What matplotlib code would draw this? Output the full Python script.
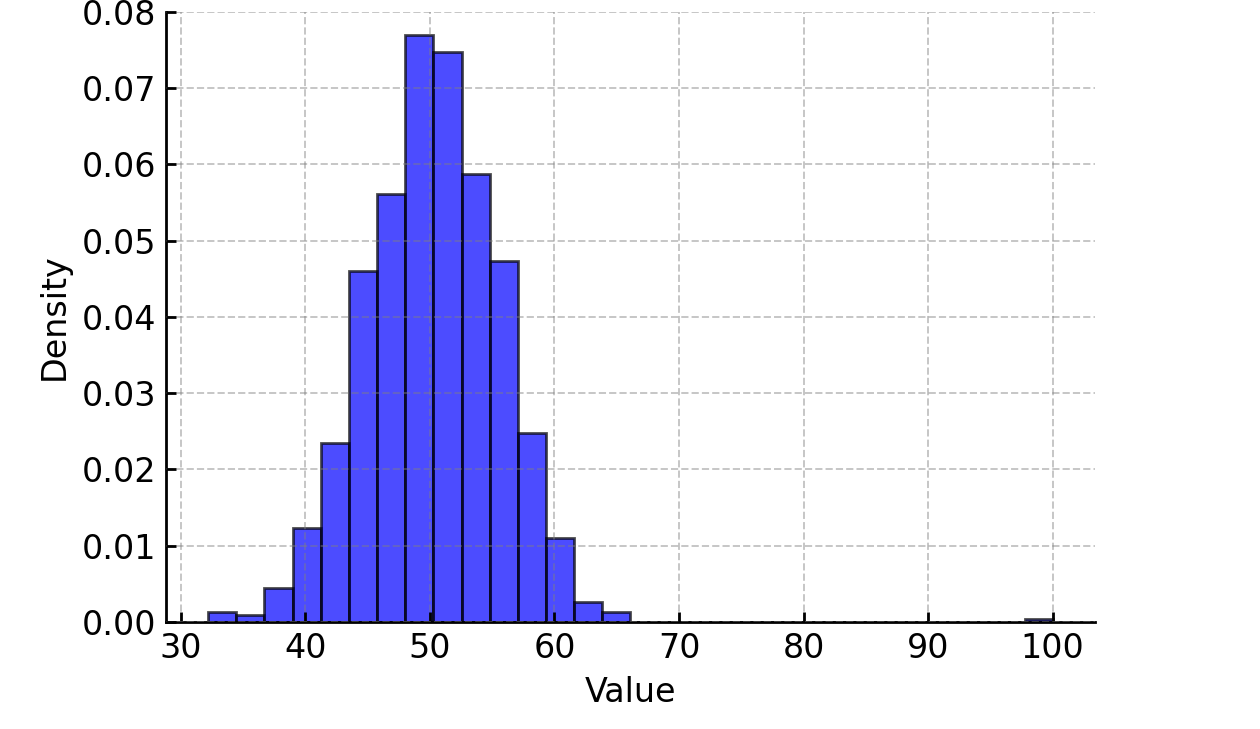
import matplotlib.pyplot as plt
import numpy as np

# histogram: 30 equal bins from ~32.2 to 100
bin_start = 32.2
bin_stop = 100.0
n_bins = 30
counts = [3, 2, 10, 28, 53, 104, 127, 174, 169, 133, 107, 56, 25, 6, 3,
          0, 0, 0, 0, 0, 0, 0, 0, 0, 0, 0, 0, 0, 0, 1]

edges = np.linspace(bin_start, bin_stop, n_bins + 1)
centers = (edges[:-1] + edges[1:]) / 2

fig = plt.figure(figsize=(6.3, 3.645), dpi=200)
ax = fig.add_axes([0.1317, 0.1468, 0.7373, 0.8368])

ax.hist(centers, bins=edges, weights=counts, density=True,
        color='blue', alpha=0.7, edgecolor='black', linewidth=1)

ax.set_xlabel('Value', fontsize=12)
ax.set_ylabel('Density', fontsize=12)
ax.set_ylim(0, 0.08)
ax.set_xticks([30, 40, 50, 60, 70, 80, 90, 100])
ax.set_yticks(np.arange(0, 0.081, 0.01))
ax.yaxis.set_major_formatter(plt.FormatStrFormatter('%.2f'))

ax.tick_params(direction='in', labelsize=12, length=3.5, width=1)
ax.spines['top'].set_visible(False)
ax.spines['right'].set_visible(False)
ax.spines['left'].set_linewidth(1)
ax.spines['bottom'].set_linewidth(1)

ax.set_axisbelow(False)
ax.grid(True, linestyle='--', color='gray', alpha=0.45, linewidth=0.7)

plt.savefig('out.png', dpi=200)
